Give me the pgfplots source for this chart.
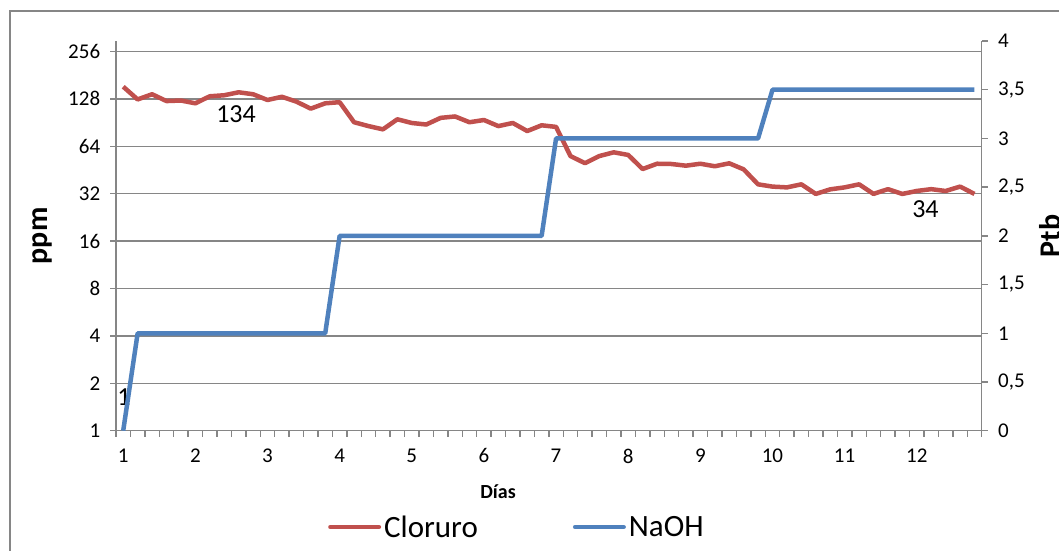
\documentclass[border=0pt]{standalone}
\usepackage{fontspec}
\setmainfont{Carlito}
\usepackage{pgfplots}
\usepackage{pgfplotstable}
\pgfplotsset{compat=1.18}

\definecolor{cloruro}{RGB}{192,80,77}
\definecolor{naoh}{RGB}{79,129,189}
\definecolor{gridgray}{RGB}{134,134,134}

% Cloruro (ppm), 60 readings, 5 per day
\pgfplotstableread{
i v
0 153
1 127
2 137
3 124
4 125
5 120
6 133
7 135
8 141
9 137
10 126
11 132
12 123
13 111
14 120
15 122
16 91
17 86
18 82
19 95
20 90
21 88
22 97
23 99
24 91
25 94
26 86
27 90
28 80
29 87
30 85
31 55.5
32 50
33 55.5
34 58.6
35 56.4
36 45.9
37 49.6
38 49.4
39 48.2
40 49.6
41 47.8
42 49.9
43 45.7
44 36.7
45 35.5
46 35.1
47 36.7
48 31.9
49 34.1
50 35.1
51 36.7
52 31.9
53 34.2
54 31.9
55 33.3
56 34.2
57 33.3
58 35.5
59 31.9
}\cloruro

% NaOH (Ptb)
\pgfplotstableread{
i v
0 0
1 1
2 1
3 1
4 1
5 1
6 1
7 1
8 1
9 1
10 1
11 1
12 1
13 1
14 1
15 2
16 2
17 2
18 2
19 2
20 2
21 2
22 2
23 2
24 2
25 2
26 2
27 2
28 2
29 2
30 3
31 3
32 3
33 3
34 3
35 3
36 3
37 3
38 3
39 3
40 3
41 3
42 3
43 3
44 3
45 3.5
46 3.5
47 3.5
48 3.5
49 3.5
50 3.5
51 3.5
52 3.5
53 3.5
54 3.5
55 3.5
56 3.5
57 3.5
58 3.5
59 3.5
}\naoh

\pgfplotsset{
  common/.style={
    at={(116pt,119.3pt)}, anchor=south west,
    width=865.7pt, height=389.7pt, scale only axis,
    xmin=-0.5, xmax=59.5,
    axis line style={gridgray, line width=1.3pt, -},
    tick style={gridgray, line width=1.3pt},
    tick align=outside, major tick length=6pt,
    ticklabel style={font=\fontsize{21}{25}\selectfont},
  },
}

\begin{document}
\begin{tikzpicture}[x=1pt,y=1pt]
\useasboundingbox (0,0) rectangle (1059,550);
\draw[gridgray, line width=1.3pt] (10,-20) -- (10,539) -- (1080,539);

\begin{axis}[
  common,
  ymode=log, log basis y=2, ymin=1, ymax=298.5,
  axis x line*=bottom, axis y line*=left,
  xtick={-0.5,0.5,...,59.5}, xticklabels={},
  extra x ticks={0,5,10,15,20,25,30,35,40,45,50,55},
  extra x tick labels={1,2,3,4,5,6,7,8,9,10,11,12},
  extra x tick style={major tick length=0pt, xticklabel style={yshift=-14.5pt}},
  ytick={1,2,4,8,16,32,64,128,256},
  yticklabels={1,2,4,8,16,32,64,128,256},
  yticklabel style={xshift=-6.3pt},
  ymajorgrids, major grid style={gridgray, line width=1.3pt},
  xlabel={Días},
  xlabel style={at={(axis description cs:0.4413,-0.156)}, anchor=center,
    font=\bfseries\fontsize{20}{24}\selectfont},
  ylabel={ppm},
  ylabel style={at={(axis description cs:-0.0849,0.5)}, anchor=center,
    font=\bfseries\fontsize{30}{36}\selectfont},
]
\addplot[cloruro, line width=4.5pt, line join=round] table[x=i, y=v] {\cloruro};
\node[font=\fontsize{26}{30}\selectfont] at (axis cs:7.82,102.7) {134};
\node[font=\fontsize{26}{30}\selectfont] at (axis cs:55.6,25.6) {34};
\node[font=\fontsize{26}{30}\selectfont] at (axis cs:0.05,1.64) {1};
\end{axis}

\begin{axis}[
  common,
  ymin=0, ymax=4,
  axis x line=none, axis y line*=right,
  ytick={0,0.5,1,1.5,2,2.5,3,3.5,4},
  yticklabels={0,{0,5},1,{1,5},2,{2,5},3,{3,5},4},
  yticklabel style={xshift=7pt},
  ylabel={Ptb},
  every axis y label/.style={at={(axis description cs:1.0795,0.5)}, rotate=90,
    anchor=center, font=\bfseries\fontsize{30}{36}\selectfont},
  legend columns=2,
  legend style={draw=none, fill=none, at={(axis description cs:0.2414,-0.2471)},
    anchor=west, font=\fontsize{31}{36}\selectfont,
    nodes={inner sep=3pt},
    /tikz/every even column/.append style={column sep=92pt}},
  legend image code/.code={\draw[#1, line cap=round] (2.25pt,0pt) -- (50.75pt,0pt);},
]
\addlegendimage{cloruro, line width=4.5pt}
\addlegendentry{Cloruro}
\addplot[naoh, line width=4.5pt, line join=round] table[x=i, y=v] {\naoh};
\addlegendentry{NaOH}
\end{axis}
\end{tikzpicture}
\end{document}
